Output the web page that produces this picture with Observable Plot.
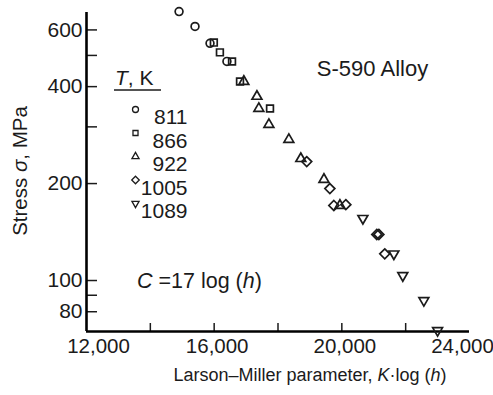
<!DOCTYPE html>
<html><head><meta charset="utf-8">
<script src="https://cdn.jsdelivr.net/npm/d3@7"></script>
<script src="https://cdn.jsdelivr.net/npm/@observablehq/plot@0.6"></script>
<style>body{margin:0;background:#fff} svg{display:block}</style>
</head><body><div id="chart"></div>
<script>
// Temperatures (K) of the series
const temps = ["811", "866", "922", "1005", "1089"];
// Larson–Miller parameter (K·log h) and stress (MPa) per series
const lm811 = [14900, 15400, 15870, 16400];
const s811 = [684, 615, 545, 479];
const lm866 = [15990, 16180, 16560, 16810, 17750];
const s866 = [548, 511, 479, 415, 342];
const lm922 = [16930, 17340, 17400, 17715, 18340, 18715, 19440, 19940];
const s922 = [415, 373, 342, 305, 274, 239, 206, 171];
const lm1005 = [18900, 19625, 19750, 20125, 21095, 21160, 21345];
const s1005 = [234, 193, 171, 172, 139, 139, 121];
const lm1089 = [20660, 21630, 21910, 22570, 23000];
const s1089 = [156, 121, 103.6, 86.7, 70];

const xLabelTicks = [12000, 16000, 20000, 24000];
const xTickMarks = [14000, 16000, 18000, 20000, 22000];
const yLabelTicks = [80, 100, 200, 400, 600];
const yTickMarks = [80, 90, 100, 200, 300, 400, 500, 600];
const xDomain = [12000, 24000];
const yDomain = [69.45, 679.6];

const triangleDown = {
  draw(context, size) {
    const s = Math.sqrt(size) * 0.6824;
    const t = s / 2;
    const u = (s * Math.sqrt(3)) / 2;
    context.moveTo(0, s);
    context.lineTo(u, -t);
    context.lineTo(-u, -t);
    context.closePath();
  }
};
const symbols = ["circle", "square2", "triangle2", "diamond2", triangleDown];
const radii = [3.9, 4.3, 4.7, 4.5, 4.7];
const legendR = [3, 3.2, 3.4, 3.4, 3.4];

const table = (xs, ys) => xs.map((x, i) => ({x, y: ys[i]}));
const data = [table(lm811, s811), table(lm866, s866), table(lm922, s922), table(lm1005, s1005), table(lm1089, s1089)];

const ink = "#1b1b1b";
const W = 493, H = 395, mL = 86, mR = 24, mT = 12, mB = 64;
const legendRowY = [97, 120.5, 144, 167.5, 191];

const marks = [];
// inward tick marks
marks.push(Plot.ruleX(xTickMarks, {stroke: ink, strokeWidth: 1.5, insetTop: (H - mT - mB) - 8}));
marks.push(Plot.ruleY(yTickMarks, {stroke: ink, strokeWidth: 1.5, insetRight: (W - mL - mR) - 11}));
// axis lines
marks.push(Plot.ruleX([xDomain[0]], {stroke: "#000", strokeWidth: 2.6}));
marks.push(Plot.ruleY([yDomain[0]], {stroke: "#000", strokeWidth: 2.6}));
// tick labels
marks.push(Plot.axisY(yLabelTicks, {tickSize: 0, tickPadding: 4, label: null, fontSize: 21, fill: ink}));
const xfmt = d3.format(",");
marks.push(Plot.axisX([xLabelTicks[0]], {tickSize: 0, tickPadding: 7, label: null, fontSize: 20.5, fill: ink, tickFormat: xfmt, dx: 12}));
marks.push(Plot.axisX(xLabelTicks.slice(1, 3), {tickSize: 0, tickPadding: 7, label: null, fontSize: 20.5, fill: ink, tickFormat: xfmt, dx: 3}));
marks.push(Plot.axisX([xLabelTicks[3]], {tickSize: 0, tickPadding: 7, label: null, fontSize: 20.5, fill: ink, tickFormat: xfmt, dx: -7}));
// data
data.forEach((d, i) => {
  marks.push(Plot.dot(d, {x: "x", y: "y", symbol: symbols[i], r: radii[i], stroke: ink, strokeWidth: 1.7, fill: "none"}));
});
// legend
temps.forEach((t, i) => {
  marks.push(Plot.dot([t], {frameAnchor: "top-left", dx: 49, dy: legendRowY[i], symbol: symbols[i], r: legendR[i], stroke: ink, strokeWidth: 1.3, fill: "none"}));
  marks.push(Plot.text([t], {text: d => d, frameAnchor: "top-left", dx: 101, dy: legendRowY[i], textAnchor: "end", fontSize: 21, fill: ink}));
});
marks.push(Plot.text(["S-590 Alloy"], {text: d => d, frameAnchor: "top-left", dx: 286, dy: 48, textAnchor: "middle", fontSize: 22, fill: ink}));

const chart = Plot.plot({
  width: W, height: H,
  marginLeft: mL, marginRight: mR, marginTop: mT, marginBottom: mB,
  style: {fontFamily: "'Liberation Sans', Arial, Helvetica, sans-serif", fontSize: "20px", color: ink, background: "#fff"},
  x: {domain: xDomain, axis: null},
  y: {type: "log", domain: yDomain, axis: null},
  marks
});
document.getElementById("chart").appendChild(chart);

// mixed-style labels
const svg = d3.select(chart);
const ff = "'Liberation Sans', Arial, Helvetica, sans-serif";
const xt = svg.append("text").attr("x", 310).attr("y", 381).attr("text-anchor", "middle")
  .attr("font-family", ff).attr("font-size", 18).attr("fill", ink);
xt.append("tspan").text("Larson\u2013Miller parameter, ");
xt.append("tspan").attr("font-style", "italic").text("K");
xt.append("tspan").text("\u00b7log (");
xt.append("tspan").attr("font-style", "italic").text("h");
xt.append("tspan").text(")");

const yt = svg.append("text").attr("transform", "translate(27,171) rotate(-90)").attr("text-anchor", "middle")
  .attr("font-family", ff).attr("font-size", 20.5).attr("fill", ink);
yt.append("tspan").text("Stress ");
yt.append("tspan").attr("font-style", "italic").text("\u03c3");
yt.append("tspan").text(", MPa");

const ct = svg.append("text").attr("x", 137).attr("y", 288).attr("text-anchor", "start")
  .attr("font-family", ff).attr("font-size", 21.5).attr("fill", ink);
ct.append("tspan").attr("font-style", "italic").text("C");
ct.append("tspan").text(" =17 log (");
ct.append("tspan").attr("font-style", "italic").text("h");
ct.append("tspan").text(")");

const tk = svg.append("text").attr("x", 115).attr("y", 85).attr("text-anchor", "start")
  .attr("font-family", ff).attr("font-size", 21).attr("fill", ink);
tk.append("tspan").attr("font-style", "italic").text("T");
tk.append("tspan").text(", K");
svg.append("line").attr("x1", 114).attr("x2", 161).attr("y1", 90).attr("y2", 90)
  .attr("stroke", ink).attr("stroke-width", 1.3);
</script>
</body></html>
